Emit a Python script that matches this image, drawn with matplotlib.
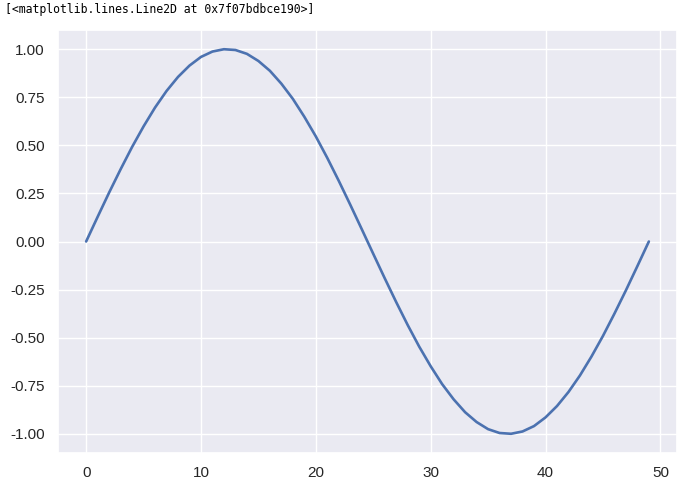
import numpy as np
import matplotlib
matplotlib.use("Agg")
import matplotlib.pyplot as plt
import seaborn as sns

# sine samples (50 points)
x_vals = list(range(50))
y_vals = [
    0.000, 0.128, 0.254, 0.375, 0.491, 0.598, 0.696, 0.782, 0.855, 0.914,
    0.959, 0.987, 0.999, 0.995, 0.975, 0.938, 0.887, 0.820, 0.741, 0.648,
    0.546, 0.434, 0.315, 0.191, 0.064, -0.064, -0.191, -0.315, -0.434, -0.546,
    -0.648, -0.741, -0.820, -0.887, -0.938, -0.975, -0.995, -0.999, -0.987, -0.959,
    -0.914, -0.855, -0.782, -0.696, -0.598, -0.491, -0.375, -0.254, -0.128, 0.000,
]

repr_text = "[<matplotlib.lines.Line2D at 0x7f07bdbce190>]"

sns.set_theme(style="darkgrid")
plt.rcParams['font.family'] = ['Liberation Sans', 'DejaVu Sans']

W, H = 684, 482
fig = plt.figure(figsize=(W / 100, H / 100), dpi=100)
fig.patch.set_facecolor("white")

# jupyter output line above the figure
fig.text(5 / W, 1 - 3 / H, repr_text, ha="left", va="top",
         family="DejaVu Sans Mono", fontsize=8.3, color="black")

ax = fig.add_axes([58 / W, 1 - 453 / H, 619 / W, 423 / H])
ax.plot(x_vals, y_vals, color="#4C72B0", linewidth=1.9)

ax.set_yticks([-1.0, -0.75, -0.5, -0.25, 0.0, 0.25, 0.5, 0.75, 1.0])
ax.set_yticklabels([f"{v:.2f}" for v in ax.get_yticks()])
ax.set_xticks([0, 10, 20, 30, 40, 50])
ax.tick_params(labelsize=11)

fig.savefig("out.png", dpi=100)
